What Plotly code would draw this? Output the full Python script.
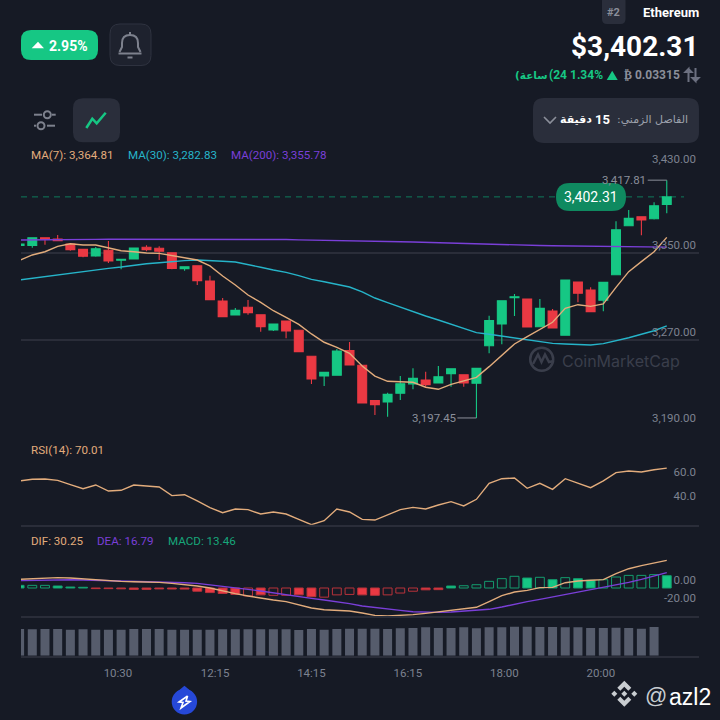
import plotly.graph_objects as go

# candle index, -1 is the partly hidden one at the left edge
candles = list(range(-1, 51))

opens = [3357.4, 3357.4, 3364.5, 3363.3, 3358.7, 3353.7, 3347.5, 3352.8, 3343.6, 3344.8, 3355.6, 3354.7, 3350.6,
         3335.8, 3338.5, 3324.4, 3305.8, 3292.9, 3300.0, 3293.1, 3279.0, 3287.3, 3278.7, 3254.6, 3236.3, 3237.0,
         3259.8, 3246.3, 3213.5, 3212.2, 3220.3, 3228.9, 3232.6, 3229.9, 3238.5, 3237.5, 3229.6, 3264.4, 3284.5,
         3308.9, 3307.7, 3282.0, 3296.6, 3274.1, 3323.4, 3316.0, 3306.5, 3330.2, 3375.6, 3383.9, 3382.1, 3395.4]
highs = [3359.0, 3364.5, 3364.8, 3367.0, 3359.6, 3354.0, 3355.9, 3361.4, 3344.5, 3355.2, 3357.4, 3356.5, 3351.0,
         3337.6, 3338.7, 3329.3, 3308.6, 3299.3, 3306.8, 3293.4, 3284.5, 3287.6, 3279.0, 3254.8, 3240.0, 3261.4,
         3267.8, 3246.5, 3213.8, 3220.9, 3236.3, 3243.5, 3240.3, 3245.6, 3243.4, 3237.8, 3243.8, 3292.2, 3306.5,
         3312.3, 3308.0, 3307.7, 3298.4, 3325.5, 3323.6, 3318.5, 3323.4, 3379.7, 3390.2, 3384.2, 3397.3, 3417.81]
lows = [3357.0, 3355.2, 3358.0, 3361.5, 3352.4, 3346.3, 3346.9, 3341.0, 3335.2, 3344.5, 3351.9, 3343.8, 3335.2,
        3333.9, 3320.7, 3307.0, 3291.0, 3292.7, 3293.1, 3277.4, 3278.0, 3271.3, 3258.9, 3229.0, 3227.1, 3236.8,
        3246.3, 3211.0, 3200.2, 3198.6, 3214.1, 3224.0, 3226.4, 3229.6, 3226.4, 3226.4, 3197.45, 3257.4, 3265.7,
        3292.0, 3281.2, 3281.7, 3280.5, 3274.0, 3304.6, 3295.5, 3296.3, 3330.0, 3375.3, 3366.7, 3381.4, 3387.1]
closes = [3358.7, 3364.5, 3363.0, 3361.7, 3353.4, 3347.3, 3354.3, 3342.9, 3344.5, 3354.9, 3353.4, 3351.9, 3336.1,
          3337.6, 3324.6, 3307.0, 3291.3, 3297.2, 3295.0, 3282.0, 3284.5, 3278.0, 3258.9, 3233.6, 3239.8, 3259.5,
          3246.5, 3211.3, 3209.7, 3219.4, 3229.2, 3234.2, 3228.3, 3235.7, 3243.1, 3229.9, 3243.5, 3287.6, 3306.1,
          3309.8, 3281.7, 3299.1, 3280.8, 3325.3, 3313.0, 3295.9, 3323.2, 3371.9, 3382.5, 3380.9, 3394.1, 3402.31]

ma7 = [3343.4, 3348.5, 3351.5, 3356.5, 3358.9, 3357.7, 3357.7, 3355.2, 3352.4, 3351.5, 3350.3, 3350.0, 3347.8,
       3345.7, 3343.8, 3338.3, 3329.0, 3320.7, 3311.4, 3304.6, 3296.8, 3290.7, 3284.2, 3275.3, 3267.6, 3262.9,
       3257.4, 3245.6, 3236.3, 3231.4, 3230.8, 3230.5, 3225.9, 3224.0, 3228.6, 3232.0, 3235.1, 3245.0, 3255.1,
       3266.0, 3272.8, 3279.6, 3286.1, 3299.1, 3302.4, 3300.9, 3303.1, 3318.5, 3333.0, 3342.3, 3351.5, 3364.81]
ma30 = [3325.3, 3326.9, 3328.4, 3330.2, 3331.5, 3333.0, 3335.2, 3336.1, 3337.3, 3339.2, 3340.4, 3341.3, 3342.6,
        3343.2, 3343.8, 3343.5, 3342.6, 3342.0, 3339.8, 3337.1, 3334.6, 3332.4, 3329.3, 3325.9, 3323.7, 3321.6,
        3318.8, 3314.2, 3308.6, 3304.3, 3300.0, 3295.9, 3291.9, 3288.2, 3284.5, 3280.5, 3276.5, 3275.0, 3273.4,
        3271.8, 3269.7, 3268.1, 3266.6, 3266.0, 3265.7, 3265.1, 3266.3, 3268.8, 3271.8, 3275.0, 3278.3, 3282.83]
ma200 = [3362.4, 3362.6, 3362.7, 3362.8, 3362.8, 3362.9, 3362.9, 3363.0, 3363.0, 3363.1, 3363.1, 3363.2, 3363.2,
         3363.3, 3363.3, 3363.3, 3363.3, 3363.3, 3363.3, 3363.2, 3363.0, 3362.8, 3362.5, 3362.2, 3362.0, 3361.9,
         3361.7, 3361.4, 3361.0, 3360.9, 3360.7, 3360.5, 3360.1, 3359.7, 3359.3, 3359.0, 3358.7, 3358.4, 3358.0,
         3357.7, 3357.5, 3357.2, 3357.0, 3356.8, 3356.6, 3356.4, 3356.3, 3356.1, 3356.0, 3355.9, 3355.85, 3355.78]

rsi = [59.2, 60.6, 60.8, 59.7, 56.1, 52.7, 55.8, 50.7, 51.3, 55.8, 54.9, 54.1, 46.8,
       47.6, 42.3, 36.7, 32.4, 35.5, 35.0, 31.3, 33.0, 31.3, 26.8, 22.3, 25.7, 35.5,
       33.0, 26.8, 26.2, 30.7, 35.0, 36.9, 35.5, 38.9, 41.7, 38.1, 43.7, 57.2, 61.1,
       61.7, 53.0, 57.2, 52.1, 61.1, 57.5, 53.5, 59.2, 66.2, 67.6, 66.8, 68.7, 70.01]

dif = [9.5, 10.2, 10.9, 11.3, 10.9, 9.8, 8.7, 8.0, 7.3, 6.9, 6.6, 6.2, 5.1,
       4.0, 2.2, 0.0, -3.3, -6.2, -8.7, -11.3, -13.1, -14.9, -18.2, -21.9, -23.7, -24.4,
       -25.1, -27.3, -29.9, -30.6, -30.2, -29.1, -27.7, -25.9, -24.0, -23.0, -21.1, -14.9, -8.4,
       -4.4, -2.6, 0.4, 0.7, 5.8, 7.7, 8.4, 9.1, 15.7, 21.1, 24.4, 27.7, 30.25]
dea = [8.0, 8.4, 8.7, 9.1, 9.1, 8.7, 8.4, 8.0, 7.7, 7.3, 7.3, 6.9, 6.6,
       5.8, 5.1, 3.6, 2.2, 0.4, -1.5, -3.3, -5.5, -7.3, -9.1, -11.3, -13.1, -14.9,
       -17.1, -19.7, -21.5, -23.3, -24.4, -25.9, -26.6, -26.6, -26.2, -25.5, -24.8, -23.3, -20.8,
       -17.5, -14.9, -12.4, -9.8, -7.3, -4.7, -2.2, 0.7, 3.3, 6.2, 9.5, 13.1, 16.79]
macd = [2.9, 2.9, 2.9, 2.2, 1.1, 0.8, -0.7, -0.7, -0.9, -1.5, -1.5, -1.0, -1.1,
        -1.2, -3.5, -5.0, -6.0, -7.0, -8.7, -7.5, -8.0, -8.0, -7.5, -9.5, -10.0, -7.5,
        -7.0, -7.5, -8.0, -7.5, -5.5, -3.5, -2.0, -1.8, 2.2, 2.5, 3.6, 7.3, 10.2,
        12.8, 10.9, 11.7, 9.1, 11.3, 10.2, 8.4, 9.1, 12.0, 13.8, 13.8, 14.6, 13.46]
macd_solid = [1, 0, 0, 1, 1, 1, 1, 1, 1, 1, 1, 1, 1,
              1, 1, 1, 1, 1, 0, 1, 0, 0, 1, 1, 0, 0,
              0, 1, 1, 0, 0, 0, 1, 1, 1, 0, 0, 0, 0,
              0, 1, 0, 1, 0, 1, 1, 0, 0, 0, 0, 0, 1]

volume = [80, 79, 80, 80, 78, 79, 78, 78, 78, 80, 80, 80, 78,
          78, 78, 78, 79, 79, 79, 79, 79, 79, 77, 80, 78, 80,
          81, 81, 81, 80, 82, 83, 85, 83, 83, 85, 82, 85, 85,
          87, 87, 86, 86, 85, 85, 83, 83, 84, 83, 81, 86]

price_ticks = [3190, 3270, 3350, 3430]
price_labels = ["3,190.00", "3,270.00", "3,350.00", "3,430.00"]
rsi_ticks = [40, 60]
rsi_labels = ["40.0", "60.0"]
macd_ticks = [-20, 0]
macd_labels = ["-20.00", "0.00"]
time_ticks = [6.75, 14.4, 22.0, 29.6, 37.2, 44.8]
time_labels = ["10:30", "12:15", "14:15", "16:15", "18:00", "20:00"]

BG = "#161A25"
PANEL = "#2A2E3B"
GRID = "#2A2D39"
GREEN = "#16C784"
RED = "#EA3943"
TAN = "#E2AC7C"
CYAN = "#26B4C9"
PURPLE = "#7A3FD8"
GREY = "#7D8290"


def px(x):
    return x / 720


def py(y):
    return 1 - y / 720


def path(points, close=False):
    d = "M " + " L ".join(f"{px(x):.5f} {py(y):.5f}" for x, y in points)
    return d + (" Z" if close else "")


def rounded(x0, y0, x1, y1, r, fill, line=None):
    a, b, c, d = px(x0), px(x1), py(y0), py(y1)
    rx, ry = px(r), r / 720
    p = (f"M {a + rx:.5f} {c:.5f} L {b - rx:.5f} {c:.5f} Q {b:.5f} {c:.5f} {b:.5f} {c - ry:.5f} "
         f"L {b:.5f} {d + ry:.5f} Q {b:.5f} {d:.5f} {b - rx:.5f} {d:.5f} L {a + rx:.5f} {d:.5f} "
         f"Q {a:.5f} {d:.5f} {a:.5f} {d + ry:.5f} L {a:.5f} {c - ry:.5f} Q {a:.5f} {c:.5f} {a + rx:.5f} {c:.5f} Z")
    return dict(type="path", xref="paper", yref="paper", path=p, fillcolor=fill,
                line=dict(color=line or fill, width=1 if line else 0))


def poly(points, fill):
    return dict(type="path", xref="paper", yref="paper", path=path(points, True), fillcolor=fill, line=dict(width=0))


def stroke(points, color, width=2, layer="above"):
    return dict(type="path", xref="paper", yref="paper", path=path(points), layer=layer,
                line=dict(color=color, width=width))


def circle(cx, cy, r, color, width=2, fill="rgba(0,0,0,0)", layer="above"):
    return dict(type="circle", xref="paper", yref="paper", x0=px(cx - r), x1=px(cx + r), y0=py(cy + r), y1=py(cy - r),
                fillcolor=fill, layer=layer, line=dict(color=color, width=width))


def label(x, y, text, color, size=11, anchor="left", bold=False, family="Roboto"):
    return dict(xref="paper", yref="paper", x=px(x), y=py(y), text=f"<b>{text}</b>" if bold else text,
                showarrow=False, xanchor=anchor, yanchor="middle", borderpad=0, borderwidth=0,
                font=dict(color=color, size=size, family=family))


x_range = [-0.89, 52.54]

fig = go.Figure()

# price panel
fig.add_trace(go.Candlestick(x=candles, open=opens, high=highs, low=lows, close=closes, whiskerwidth=0,
                             increasing=dict(line=dict(color=GREEN, width=1.1), fillcolor=GREEN),
                             decreasing=dict(line=dict(color=RED, width=1.1), fillcolor=RED)))
fig.add_trace(go.Scatter(x=candles, y=ma200, mode="lines", line=dict(color=PURPLE, width=1.4)))
fig.add_trace(go.Scatter(x=candles, y=ma30, mode="lines", line=dict(color=CYAN, width=1.4)))
fig.add_trace(go.Scatter(x=candles, y=ma7, mode="lines", line=dict(color=TAN, width=1.4)))
fig.add_trace(go.Scatter(x=[48.5, 50], y=[highs[-1], highs[-1]], mode="lines", line=dict(color="#8B8F9A", width=1)))
fig.add_trace(go.Scatter(x=[33.5, 35], y=[lows[36], lows[36]], mode="lines", line=dict(color="#8B8F9A", width=1)))

# rsi panel
fig.add_trace(go.Scatter(x=candles, y=rsi, mode="lines", line=dict(color=TAN, width=1.4), xaxis="x2", yaxis="y2"))

# macd panel
fig.add_trace(go.Bar(x=candles, y=macd, width=0.7, xaxis="x3", yaxis="y3",
                     marker=dict(
                         color=[(GREEN if v > 0 else RED) if s else "rgba(0,0,0,0)" for v, s in zip(macd, macd_solid)],
                         line=dict(color=["#149C6E" if v > 0 else "#B8323B" for v in macd], width=1))))
fig.add_trace(go.Scatter(x=candles, y=dea, mode="lines", line=dict(color=PURPLE, width=1.4), xaxis="x3", yaxis="y3"))
fig.add_trace(go.Scatter(x=candles, y=dif, mode="lines", line=dict(color=TAN, width=1.4), xaxis="x3", yaxis="y3"))

# volume panel
fig.add_trace(go.Bar(x=candles[:-1], y=volume, width=0.71, marker=dict(color="#565C6C", line=dict(width=0)),
                     xaxis="x4", yaxis="y4"))

hidden_x = dict(range=x_range, domain=[px(21), px(699)], showgrid=False, zeroline=False, showticklabels=False,
                ticks="", fixedrange=True, automargin=False)
side_y = dict(side="right", showgrid=False, zeroline=False, ticks="", ticklabelposition="inside top",
              ticklabeloverflow="allow", tickfont=dict(color=GREY, size=11.5, family="Roboto"), fixedrange=True,
              automargin=False)

fig.update_layout(
    width=720, height=720, margin=dict(l=0, r=0, t=0, b=0), showlegend=False, autosize=False,
    paper_bgcolor=BG, plot_bgcolor=BG, barmode="overlay", boxgap=0.3, boxgroupgap=0,
    xaxis={**hidden_x, "rangeslider": dict(visible=False)},
    yaxis={**side_y, "domain": [py(426), py(167)], "range": [3190, 3430], "tickvals": price_ticks,
           "ticktext": price_labels, "showgrid": True, "gridcolor": GRID, "gridwidth": 1.5},
    xaxis2={**hidden_x, "anchor": "y2", "matches": "x", "showline": True, "linecolor": GRID, "linewidth": 1.5},
    yaxis2={**side_y, "domain": [py(524.7), py(426)], "range": [22.28, 105.57], "tickvals": rsi_ticks,
            "ticktext": rsi_labels, "anchor": "x2"},
    xaxis3={**hidden_x, "anchor": "y3", "matches": "x", "showline": True, "linecolor": GRID, "linewidth": 1.5},
    yaxis3={**side_y, "domain": [py(616), py(524.7)], "range": [-30.6, 69.2], "tickvals": macd_ticks,
            "ticktext": macd_labels, "anchor": "x3"},
    xaxis4={**hidden_x, "anchor": "y4", "matches": "x", "showline": True, "linecolor": GRID, "linewidth": 1.5,
            "showticklabels": True, "tickvals": time_ticks, "ticktext": time_labels, "ticklabelstandoff": 6,
            "tickfont": dict(color=GREY, size=11.5, family="Roboto")},
    yaxis4={"domain": [py(655.7), py(616)], "range": [0, 119], "showgrid": False, "zeroline": False,
            "showticklabels": False, "anchor": "x4", "fixedrange": True, "automargin": False},
)

shapes = [
    # header boxes
    rounded(21, 30, 98, 60, 10, GREEN),
    poly([(31.7, 48.3), (38, 41.7), (44, 48.3)], "#FFFFFF"),
    rounded(110, 24, 151, 65.5, 10, "#1E222E", "#2F3340"),
    rounded(602, -4, 625.5, 24, 5, PANEL),
    poly([(606.7, 80), (612.2, 70.7), (617.7, 80)], GREEN),
    stroke([(688.5, 82), (688.5, 69), (685.5, 72), (691.5, 72), (688.5, 69)], "#6C7080", 2),
    stroke([(695.5, 68), (695.5, 81), (692.5, 78), (698.5, 78), (695.5, 81)], "#6C7080", 2),
    # bell
    dict(type="path", xref="paper", yref="paper", line=dict(color="#7D818D", width=2),
         path=(f"M {px(119.5):.5f} {py(52):.5f} L {px(122):.5f} {py(47):.5f} L {px(122):.5f} {py(43):.5f} "
               f"Q {px(122):.5f} {py(35):.5f} {px(130):.5f} {py(35):.5f} "
               f"Q {px(138):.5f} {py(35):.5f} {px(138):.5f} {py(43):.5f} "
               f"L {px(138):.5f} {py(47):.5f} L {px(140.5):.5f} {py(52):.5f}")),
    stroke([(118.5, 53.5), (141.5, 53.5)], "#7D818D", 2),
    stroke([(130, 32), (130, 35)], "#7D818D", 2),
    stroke([(127.5, 57.5), (132.5, 57.5)], "#7D818D", 2),
    # sliders and line button
    stroke([(34, 114.7), (42, 114.7)], "#7D818D", 2),
    stroke([(52, 114.7), (55.7, 114.7)], "#7D818D", 2),
    circle(47.3, 114.7, 3.5, "#7D818D"),
    stroke([(34, 125.7), (36, 125.7)], "#7D818D", 2),
    stroke([(47, 125.7), (55, 125.7)], "#7D818D", 2),
    circle(41, 125.7, 3.5, "#7D818D"),
    rounded(73, 98.3, 120, 142.3, 10, PANEL),
    stroke([(86.3, 128), (92.3, 118.7), (96.7, 123.3), (105.7, 112.7)], GREEN, 2.5),
    # interval dropdown
    rounded(533, 98, 699, 143, 11, PANEL),
    stroke([(544, 117), (550, 123), (556, 117)], "#8B8F9A", 1.6),
    # last price line and pill
    dict(type="line", xref="paper", yref="y", x0=px(21), x1=px(684), y0=closes[-1], y1=closes[-1], layer="below",
         line=dict(color="#0F7A5A", width=1, dash="6px,5px")),
    rounded(556, 183, 626, 211, 14, "#0F8A60"),
    # CoinMarketCap watermark
    circle(541.7, 359.3, 11.5, "#3A3E4B", 2.5, layer="below"),
    stroke([(533, 364), (538, 354.5), (541.5, 362), (545, 354.5), (549, 362), (554, 361)], "#3A3E4B", 2.5, "below"),
    # blue pin
    poly([(177, 692), (184.4, 685.7), (192, 692)], "#2648D8"),
    circle(184.4, 701.7, 12.7, "#2648D8", 0, "#2648D8"),
    stroke([(187.6, 696), (179, 702), (183, 702.5), (181, 708), (190, 701.5), (186, 701), (187.6, 696)], "#FFFFFF", 1.6),
    # binance logo
    poly([(624.3, 680.7), (631.3, 687.7), (628.3, 690.7), (624.3, 686.7), (620.3, 690.7), (617.3, 687.7)], "#C9CDD1"),
    poly([(624.3, 706.7), (631.3, 699.7), (628.3, 696.7), (624.3, 700.7), (620.3, 696.7), (617.3, 699.7)], "#C9CDD1"),
    poly([(614.3, 690.7), (617.3, 693.7), (614.3, 696.7), (611.3, 693.7)], "#C9CDD1"),
    poly([(634.3, 690.7), (637.3, 693.7), (634.3, 696.7), (631.3, 693.7)], "#C9CDD1"),
    poly([(624.3, 690.7), (627.3, 693.7), (624.3, 696.7), (621.3, 693.7)], "#C9CDD1"),
]

annotations = [
    label(88.3, 45.5, "2.95%", "#FFFFFF", 14, "right", True),
    label(613.7, 12, "#2", "#8B8F9A", 11, "center", True),
    label(699, 12, "Ethereum", "#FFFFFF", 13, "right", True),
    label(698, 46, "$3,402.31", "#FFFFFF", 28, "right", True),
    label(680, 75, "₿ 0.03315", "#8B8F9A", 12, "right", True),
    label(602.7, 75, "1.34%", GREEN, 12, "right", True),
    label(567, 75, "(24", GREEN, 12, "right", True),
    label(548, 75, "ساعة)\u200f", GREEN, 10.5, "right", True, "DejaVu Sans"),
    label(688, 120, "الفاصل الزمني:\u200f", "#9DA1AC", 11, "right", False, "DejaVu Sans"),
    label(610, 120, "15", "#FFFFFF", 13, "right", True),
    label(592, 120, "دقيقة", "#FFFFFF", 11, "right", True, "DejaVu Sans"),
    label(31, 155, "MA(7): 3,364.81", TAN, 11.6),
    label(128, 155, "MA(30): 3,282.83", CYAN, 11.6),
    label(231, 155, "MA(200): 3,355.78", PURPLE, 11.6),
    label(591, 197, "3,402.31", "#FFFFFF", 14, "center"),
    label(646, 180, "3,417.81", "#8B8F9A", 11.5, "right"),
    label(457, 418, "3,197.45", "#8B8F9A", 11.5, "right"),
    label(562, 360.5, "CoinMarketCap", "#3A3E4B", 16, "left", False, "Inter"),
    label(31, 450, "RSI(14): 70.01", TAN, 11.6),
    label(31, 541, "DIF: 30.25", TAN, 11.6),
    label(97, 541, "DEA: 16.79", PURPLE, 11.6),
    label(168, 541, "MACD: 13.46", "#16A67A", 11.6),
    label(645, 695, "@", "#C9CDD1", 22, "left", False, "Liberation Sans"),
    label(668.5, 697, "azl2", "#FFFFFF", 23, "left", False, "Liberation Sans"),
]

fig.update_layout(shapes=shapes, annotations=annotations)

fig.write_html("out.html", config=dict(displayModeBar=False),
               post_script="document.body.style.margin='0';document.body.style.overflow='hidden';")
